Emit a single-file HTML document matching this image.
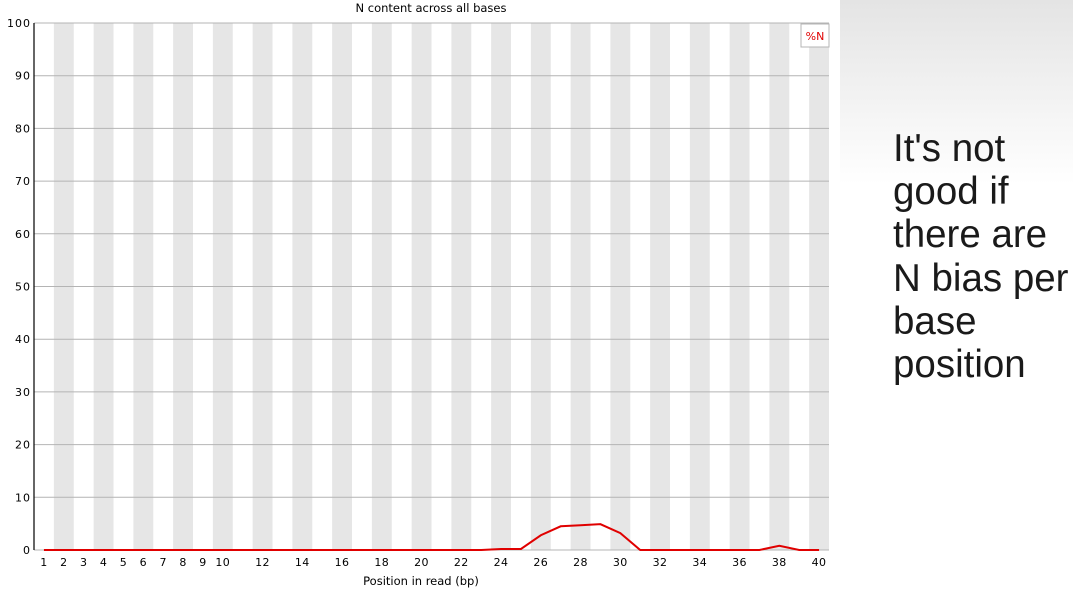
<!DOCTYPE html>
<html><head><meta charset="utf-8"><style>
html,body{margin:0;padding:0;background:#fff;width:1073px;height:595px;overflow:hidden;font-family:"Liberation Sans","DejaVu Sans",sans-serif}
#side{position:absolute;left:840px;top:0;width:233px;height:184px;background:linear-gradient(#e4e4e4,#ffffff)}
#note{position:absolute;left:893px;top:127px;font-size:38.5px;line-height:43.2px;color:#1a1a1a;margin:0;white-space:nowrap}
</style></head><body>
<div id="side"></div>
<p id="note">It's not<br>good if<br>there are<br>N bias per<br>base<br>position</p>
<svg id="chart" width="840" height="595" style="position:absolute;left:0;top:0" font-family="DejaVu Sans, sans-serif"></svg>
<script>
const positions=[1,2,3,4,5,6,7,8,9,10,11,12,13,14,15,16,17,18,19,20,21,22,23,24,25,26,27,28,29,30,31,32,33,34,35,36,37,38,39,40];
const nPercent=[0,0,0,0,0,0,0,0,0,0,0,0,0,0,0,0,0,0,0,0,0,0,0,0.2,0.2,2.8,4.5,4.7,4.9,3.2,0,0,0,0,0,0,0,0.8,0,0];
const yTicks=[0,10,20,30,40,50,60,70,80,90,100];
const xTickLabels=["1","2","3","4","5","6","7","8","9","10","12","14","16","18","20","22","24","26","28","30","32","34","36","38","40"];
const NS="http://www.w3.org/2000/svg";
const svg=document.getElementById('chart');
const L=34,R=829,T=23,B=550,W=(R-L)/positions.length;
const xs=p=>L+(p-0.5)*W;
const ys=v=>B-(v/100)*(B-T);
function mk(tag,attrs,parent){const e=document.createElementNS(NS,tag);for(const k in attrs)e.setAttribute(k,attrs[k]);(parent||svg).appendChild(e);return e;}
positions.forEach((p,i)=>{if(i%2===1){const r=mk('rect',{x:L+i*W,y:T,width:W,height:B-T,fill:'#e6e6e6'});

}});
yTicks.forEach(v=>{const y=ys(v);
const g=mk('line',{x1:L,x2:R,y1:y,y2:y,stroke:'#b4b4b4','stroke-width':1});


const t=mk('text',{x:L-3,y:y+4,'text-anchor':'end','font-size':11,fill:'#000','letter-spacing':1});t.textContent=v;

});
const ax=mk('line',{x1:L,x2:L,y1:T,y2:B,stroke:'#000','stroke-width':1.2});


xTickLabels.forEach(l=>{const t=mk('text',{x:xs(+l),y:566,'text-anchor':'middle','font-size':11,fill:'#000','letter-spacing':0.5});t.textContent=l;

});
const pts=positions.map((p,i)=>xs(p)+','+ys(nPercent[i])).join(' ');
const line=mk('polyline',{points:pts,fill:'none',stroke:'#e00000','stroke-width':2});


const title=mk('text',{x:431,y:12,'text-anchor':'middle','font-size':11.5,fill:'#000'});title.textContent='N content across all bases';


const xt=mk('text',{x:421,y:585,'text-anchor':'middle','font-size':11.5,fill:'#000'});xt.textContent='Position in read (bp)';


const lg=mk('rect',{x:801,y:24,width:28,height:23,fill:'#fff',stroke:'#b4b4b4'});


const lt=mk('text',{x:815,y:40,'text-anchor':'middle','font-size':11,fill:'#e00000'});lt.textContent='%N';


</script>
</body></html>
